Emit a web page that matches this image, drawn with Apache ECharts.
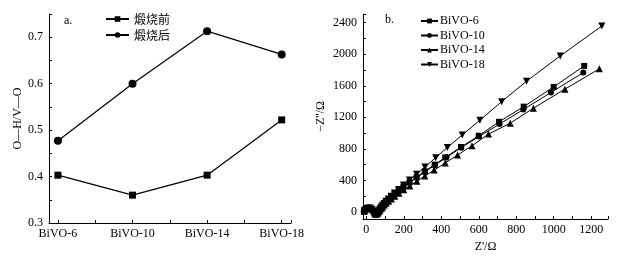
<!DOCTYPE html>
<html><head><meta charset="utf-8">
<script src="https://cdn.jsdelivr.net/npm/echarts@6/dist/echarts.min.js"></script>
<style>html,body{margin:0;padding:0;background:#fff}#c{width:627px;height:259px}</style>
</head><body><div id="c"></div>
<script>
// ---- panel a ----
const samples = ['BiVO-6', 'BiVO-10', 'BiVO-14', 'BiVO-18'];
const ratioBefore = [0.403, 0.360, 0.403, 0.522];   // 煅烧前
const ratioAfter  = [0.477, 0.600, 0.713, 0.663];   // 煅烧后
const leftYLabels = [0.3, 0.4, 0.5, 0.6, 0.7];
const leftYTicks  = [0.3, 0.35, 0.4, 0.45, 0.5, 0.55, 0.6, 0.65, 0.7, 0.75];
const leftXTicks  = [0, 0.5, 1, 1.5, 2, 2.5, 3, 3.125];

// ---- panel b (Z', -Z'') ----
const bivo6 = [[1163,1852],[1000,1585],[840,1335],[708,1143],[600,966],[505,823],[421,691],[365,600],[312,515],[268,440],[230,375],[198,320],[172,270],[150,228],[132,190],[117,158],[104,128],[94,102],[86,78],[79,55],[73,33],[67,12],[62,-8],[56,-25],[50,-32],[43,-20],[36,15],[28,38],[18,50],[8,50],[-2,40],[-9,22],[-13,5]];
const bivo10 = [[1158,1767],[985,1514],[838,1298],[711,1114],[600,955],[507,815],[428,693],[365,592],[312,505],[268,432],[230,368],[198,312],[172,264],[150,222],[132,186],[117,154],[104,125],[94,99],[86,75],[79,53],[73,31],[67,10],[61,-10],[55,-26],[49,-30],[42,-15],[35,18],[26,40],[16,52],[6,50],[-4,38],[-10,20],[-14,3]];
const bivo14 = [[1244,1815],[1060,1557],[892,1316],[768,1125],[652,987],[564,839],[487,722],[421,620],[362,530],[312,455],[270,390],[232,330],[200,280],[174,236],[152,198],[134,165],[119,136],[106,110],[96,86],[87,63],[80,42],[73,22],[67,2],[61,-17],[54,-30],[47,-25],[40,5],[32,30],[22,45],[12,48],[2,40],[-6,25],[-11,8]];
const bivo18 = [[1257,2358],[1035,1978],[855,1658],[722,1398],[606,1163],[512,976],[432,816],[370,688],[313,570],[268,478],[230,405],[198,340],[172,285],[150,240],[132,200],[117,165],[104,135],[94,108],[86,85],[79,62],[73,40],[68,20],[63,0],[58,-20],[52,-35],[45,-30],[38,10],[30,35],[20,48],[10,50],[0,42],[-8,25],[-12,8]];
const rightXLabels = [0, 200, 400, 600, 800, 1000, 1200];
const rightXTicks  = [0, 100, 200, 300, 400, 500, 600, 700, 800, 900, 1000, 1100, 1200, 1290];
const rightYLabels = [0, 400, 800, 1200, 1600, 2000, 2400];
const rightYTicks  = [0, 200, 400, 600, 800, 1000, 1200, 1400, 1600, 1800, 2000, 2200, 2400, 2510];

const serif = '"Liberation Serif", "Times New Roman", serif';
const cjk = '"Noto Sans CJK SC", sans-serif';
const black = '#000';

function axisBase(extra) {
  return Object.assign({
    axisLine: { show: true, onZero: false, lineStyle: { color: black, width: 1 } },
    splitLine: { show: false },
    nameTextStyle: { color: black, fontFamily: serif, fontSize: 12 }
  }, extra);
}
function ticks(vals) {
  return { show: true, inside: true, length: 3, lineStyle: { color: black }, customValues: vals };
}
function labels(vals, fmt, margin) {
  return { color: black, fontFamily: serif, fontSize: 12, margin: margin, customValues: vals, formatter: fmt };
}

const chart = echarts.init(document.getElementById('c'), null, { renderer: 'canvas' });
chart.setOption({
  backgroundColor: '#fff',
  animation: false,
  grid: [
    { left: 49, top: 14, width: 242, height: 209 },
    { left: 363, top: 14, width: 245, height: 205 }
  ],
  xAxis: [
    axisBase({
      gridIndex: 0, type: 'value', min: -0.12, max: 3.125,
      axisTick: ticks(leftXTicks),
      axisLabel: labels([0, 1, 2, 3], v => samples[Math.round(v)], 5)
    }),
    axisBase({
      gridIndex: 1, type: 'value', min: -18, max: 1290,
      name: "Z'/Ω", nameLocation: 'middle', nameGap: 22,
      axisTick: ticks(rightXTicks),
      axisLabel: labels(rightXLabels, v => String(v), 5)
    })
  ],
  yAxis: [
    axisBase({
      gridIndex: 0, type: 'value', min: 0.3, max: 0.75,
      name: 'O—H/V—O', nameLocation: 'middle', nameGap: 24, nameRotate: 90,
      axisTick: ticks(leftYTicks),
      axisLabel: labels(leftYLabels, v => v.toFixed(1), 6)
    }),
    axisBase({
      gridIndex: 1, type: 'value', min: -90, max: 2510,
      name: "−Z''/Ω", nameLocation: 'middle', nameGap: 36, nameRotate: 90,
      axisTick: ticks(rightYTicks),
      axisLabel: labels(rightYLabels, v => String(v), 6)
    })
  ],
  legend: [
    {
      data: ['煅烧前', '煅烧后'], left: 105, top: 13, orient: 'vertical', padding: 0,
      itemWidth: 23, itemHeight: 7, itemGap: 4,
      textStyle: { color: black, fontFamily: cjk, fontSize: 12, lineHeight: 12 }
    },
    {
      data: ['BiVO-6', 'BiVO-10', 'BiVO-14', 'BiVO-18'], left: 420, top: 15, orient: 'vertical', padding: 0,
      itemWidth: 17, itemHeight: 6, itemGap: 2.5,
      textStyle: { color: black, fontFamily: serif, fontSize: 12, lineHeight: 12, padding: [0, 0, 0, -3] }
    }
  ],
  graphic: [
    { type: 'text', left: 64, top: 15, style: { text: 'a.', font: '12px ' + serif, fill: black } },
    { type: 'text', left: 385, top: 14, style: { text: 'b.', font: '12px ' + serif, fill: black } }
  ],
  series: [
    { name: '煅烧前', type: 'line', xAxisIndex: 0, yAxisIndex: 0,
      data: ratioBefore.map((v, i) => [i, v]), symbol: 'rect', symbolSize: 7,
      lineStyle: { color: black, width: 1.2 }, itemStyle: { color: black } },
    { name: '煅烧后', type: 'line', xAxisIndex: 0, yAxisIndex: 0,
      data: ratioAfter.map((v, i) => [i, v]), symbol: 'circle', symbolSize: 8,
      lineStyle: { color: black, width: 1.2 }, itemStyle: { color: black } },
    { name: 'BiVO-6', type: 'line', xAxisIndex: 1, yAxisIndex: 1, data: bivo6,
      symbol: 'rect', symbolSize: 6, lineStyle: { color: black, width: 1 }, itemStyle: { color: black } },
    { name: 'BiVO-10', type: 'line', xAxisIndex: 1, yAxisIndex: 1, data: bivo10,
      symbol: 'circle', symbolSize: 6, lineStyle: { color: black, width: 1 }, itemStyle: { color: black } },
    { name: 'BiVO-14', type: 'line', xAxisIndex: 1, yAxisIndex: 1, data: bivo14,
      symbol: 'triangle', symbolSize: 7, lineStyle: { color: black, width: 1 }, itemStyle: { color: black } },
    { name: 'BiVO-18', type: 'line', xAxisIndex: 1, yAxisIndex: 1, data: bivo18,
      symbol: 'triangle', symbolRotate: 180, symbolSize: 7, lineStyle: { color: black, width: 1 }, itemStyle: { color: black } }
  ]
});
</script>
</body></html>
